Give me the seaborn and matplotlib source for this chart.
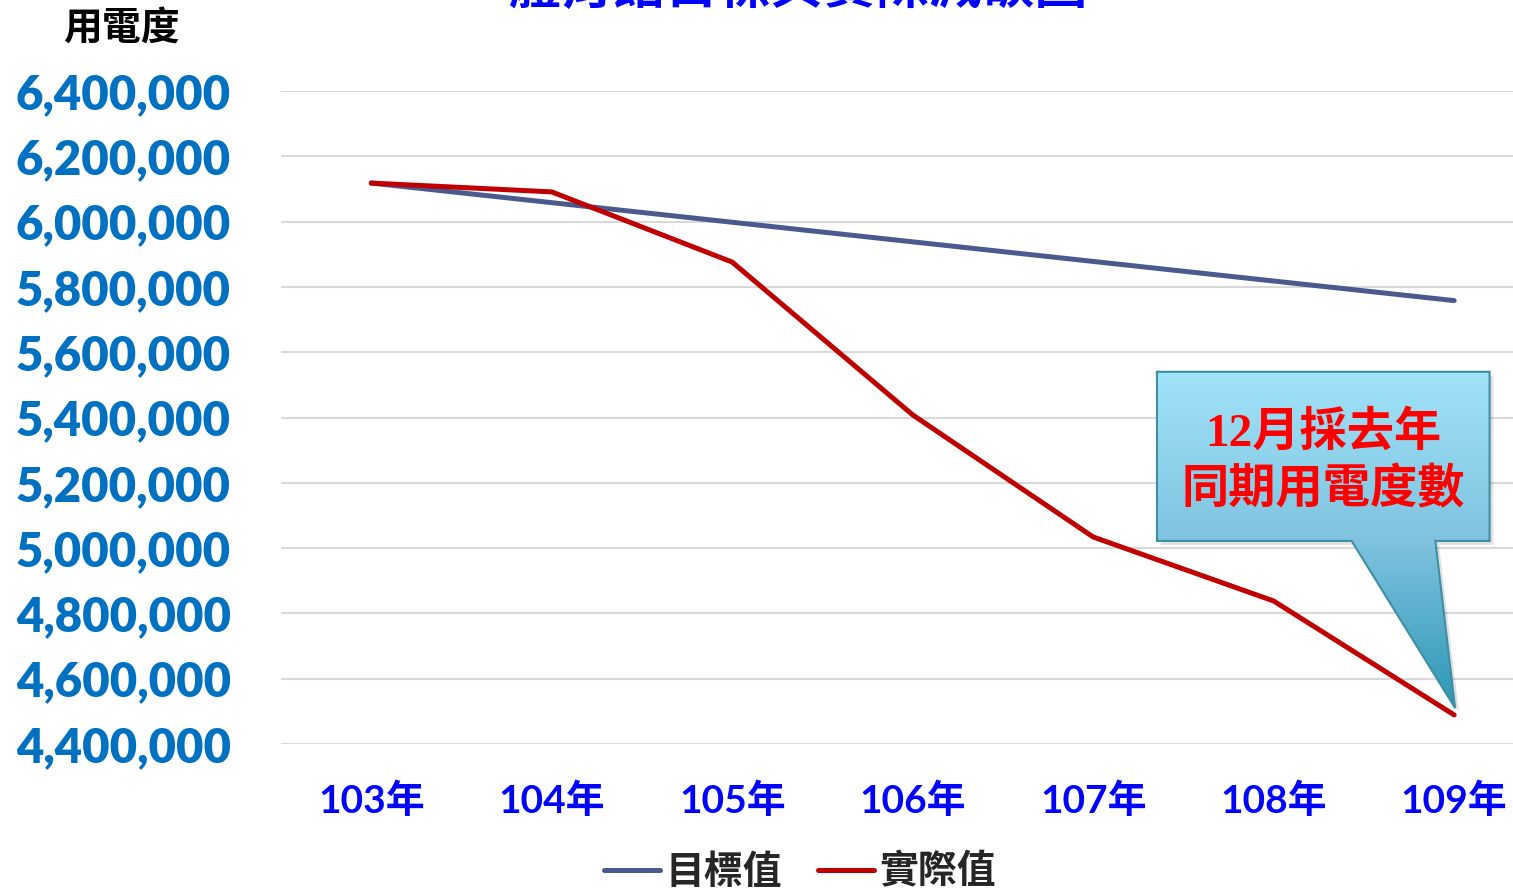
import numpy as np
import pandas as pd
import matplotlib.pyplot as plt
import seaborn as sns
from matplotlib.patches import Polygon
from matplotlib.colors import LinearSegmentedColormap

years = ["103年", "104年", "105年", "106年", "107年", "108年", "109年"]
target = [6118000, 6058000, 5998000, 5938000, 5878000, 5818000, 5758000]
actual = [6118000, 6091000, 5876000, 5408000, 5034000, 4838000, 4489000]
series_names = ["目標值", "實際值"]
yticks = [4400000, 4600000, 4800000, 5000000, 5200000, 5400000,
          5600000, 5800000, 6000000, 6200000, 6400000]

df = pd.DataFrame({
    "年度": years * 2,
    "用電度": target + actual,
    "系列": [series_names[0]] * 7 + [series_names[1]] * 7,
})

sns.set_theme(style="white")
plt.rcParams["font.family"] = ["Lato", "Noto Sans CJK TC", "DejaVu Sans"]
cjk = ["Noto Sans CJK TC", "DejaVu Sans"]

fig = plt.figure(figsize=(15.13, 8.88), dpi=100)
ax = fig.add_axes([281 / 1513, (888 - 744) / 888, 1232 / 1513, 653 / 888])

sns.lineplot(data=df, x="年度", y="用電度", hue="系列", sort=False,
             palette={"目標值": "#4A5A8E", "實際值": "#C00000"},
             linewidth=3.6, ax=ax)
for ln in ax.lines:
    ln.set_solid_capstyle("round")
    ln.set_solid_joinstyle("round")

ax.set_ylim(4400000, 6400000)
ax.set_xlim(-0.5, 6.326)
ax.set_yticks(yticks)
ax.set_yticklabels([f"{v:,}" for v in yticks], color="#0070C0",
                   fontsize=34, fontweight="heavy", family=["Lato", "DejaVu Sans"])
ax.set_xticks(range(len(years)))
ax.set_xticklabels(years, color="#0000FF", fontsize=28, fontweight="bold",
                   family=["Lato", "Noto Sans CJK TC"])
ax.tick_params(axis="y", length=0, pad=36)
ax.tick_params(axis="x", length=0, pad=28)
ax.set_xlabel("")
ax.set_ylabel("")
ax.grid(axis="y", color="#D9D9D9", linewidth=1.5)
ax.grid(axis="x", visible=False)
for s in ax.spines.values():
    s.set_visible(False)

leg = ax.legend(loc="center", bbox_to_anchor=(800 / 1513, 0.018),
                bbox_transform=fig.transFigure, ncol=2, frameon=False,
                handlelength=1.45, handletextpad=0.15, columnspacing=0.9,
                prop={"family": cjk, "size": 28, "weight": "bold"})
for h in leg.get_lines():
    h.set_linewidth(3.6)
    h.set_solid_capstyle("round")

fig.text(121 / 1513, 1 - 29 / 888, "用電度", ha="center", va="center",
         fontsize=28, family=cjk, color="black", fontweight="bold")
fig.text(797 / 1513, 1.014, "體育館目標與實際減碳圖", ha="center", va="center",
         fontsize=38, family=cjk, color="#0000FF", fontweight="bold")

# callout box with pointer
cax = fig.add_axes(ax.get_position(), facecolor="none")
cax.set_xlim(0, 1)
cax.set_ylim(0, 1)
cax.axis("off")
shape = [(0.711, 0.570), (0.981, 0.570), (0.981, 0.311), (0.937, 0.311),
         (0.953, 0.055), (0.869, 0.311), (0.711, 0.311)]
shadow = Polygon([(x + 0.003, y - 0.006) for x, y in shape], closed=True,
                 facecolor="#000000", alpha=0.12, edgecolor="none")
cax.add_patch(shadow)
cmap = LinearSegmentedColormap.from_list(
    "callout", [(0.0, "#2D97B5"), (0.5, "#7FC3DF"), (1.0, "#A1E3F9")])
grad = np.linspace(0, 1, 256).reshape(-1, 1)
img = cax.imshow(grad, extent=(0.70, 0.99, 0.055, 0.570), origin="lower",
                 cmap=cmap, aspect="auto", zorder=2)
poly = Polygon(shape, closed=True, facecolor="none", edgecolor="#3E8FA6",
               linewidth=1.5, zorder=3)
cax.add_patch(poly)
img.set_clip_path(poly)
cax.text(0.846, 0.432, "12月採去年\n同期用電度數", ha="center", va="center",
         fontsize=34, color="#FF0000", fontweight="bold", linespacing=1.35,
         family=["Liberation Serif", "Noto Sans CJK TC"], zorder=4)

fig.savefig("out.png", dpi=100)
